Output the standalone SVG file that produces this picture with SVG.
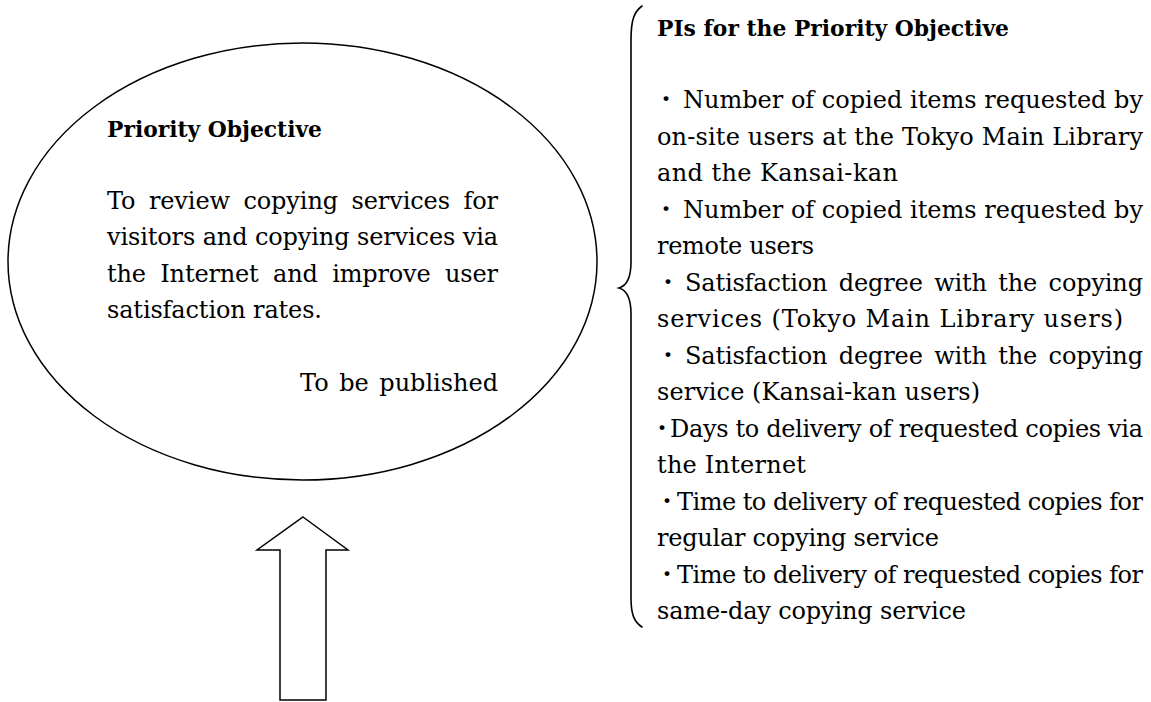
<svg xmlns="http://www.w3.org/2000/svg" width="1151" height="702" viewBox="0 0 1151 702">
  <style>
    .bg { fill: #ffffff; }
    .shape { fill: #ffffff; stroke: #000000; stroke-width: 1.5; stroke-linejoin: miter; }
    .brace { fill: none; stroke: #000000; stroke-width: 1.6; stroke-linecap: round; }
    .txt { font-family: "DejaVu Serif", serif; font-size: 24px; fill: #000000; }
    .head { font-family: "DejaVu Serif", serif; font-size: 21.5px; font-weight: bold; fill: #000000; }
    .dot { font-family: "DejaVu Serif", serif; font-size: 26px; font-weight: bold; fill: #000000; text-anchor: middle; }
  </style>

  <rect class="bg" x="0" y="0" width="1151" height="702"/>

  <!-- Objective bubble -->
  <g id="objective">
    <ellipse class="shape" cx="302.5" cy="261.5" rx="294.5" ry="218.5"/>
    <text class="head" x="107" y="137" textLength="215" lengthAdjust="spacingAndGlyphs">Priority Objective</text>
    <text class="txt" x="107" y="209" textLength="391" lengthAdjust="spacing" word-spacing="6">To review copying services for</text>
    <text class="txt" x="107" y="245" textLength="391" lengthAdjust="spacing">visitors and copying services via</text>
    <text class="txt" x="107" y="282" textLength="391" lengthAdjust="spacing" word-spacing="7">the Internet and improve user</text>
    <text class="txt" x="107" y="318" textLength="215" lengthAdjust="spacing">satisfaction rates.</text>
    <text class="txt" x="300" y="391" textLength="198" lengthAdjust="spacing" word-spacing="3">To be published</text>
  </g>

  <!-- Performance indicator list -->
  <g id="indicators">
    <text class="head" x="657" y="36" textLength="352" lengthAdjust="spacingAndGlyphs">PIs for the Priority Objective</text>

    <text class="dot" x="666" y="108">·</text>
    <text class="txt" x="683" y="108" textLength="460" lengthAdjust="spacing">Number of copied items requested by</text>
    <text class="txt" x="657" y="144.5" textLength="486" lengthAdjust="spacing">on-site users at the Tokyo Main Library</text>
    <text class="txt" x="657" y="181" textLength="241" lengthAdjust="spacing">and the Kansai-kan</text>

    <text class="dot" x="666" y="217.5">·</text>
    <text class="txt" x="683" y="217.5" textLength="460" lengthAdjust="spacing">Number of copied items requested by</text>
    <text class="txt" x="657" y="254" textLength="157" lengthAdjust="spacing">remote users</text>

    <text class="dot" x="668" y="290.5">·</text>
    <text class="txt" x="685" y="290.5" textLength="458" lengthAdjust="spacing" word-spacing="4">Satisfaction degree with the copying</text>
    <text class="txt" x="657" y="327" textLength="466" lengthAdjust="spacing">services (Tokyo Main Library users)</text>

    <text class="dot" x="668" y="363.5">·</text>
    <text class="txt" x="685" y="363.5" textLength="458" lengthAdjust="spacing" word-spacing="4">Satisfaction degree with the copying</text>
    <text class="txt" x="657" y="400" textLength="323" lengthAdjust="spacing">service (Kansai-kan users)</text>

    <text class="dot" x="662" y="436.5">·</text>
    <text class="txt" x="670" y="436.5" textLength="473" lengthAdjust="spacing">Days to delivery of requested copies via</text>
    <text class="txt" x="657" y="473" textLength="149" lengthAdjust="spacing">the Internet</text>

    <text class="dot" x="667" y="509.5">·</text>
    <text class="txt" x="677" y="509.5" textLength="466" lengthAdjust="spacing">Time to delivery of requested copies for</text>
    <text class="txt" x="657" y="546" textLength="282" lengthAdjust="spacing">regular copying service</text>

    <text class="dot" x="667" y="582.5">·</text>
    <text class="txt" x="677" y="582.5" textLength="466" lengthAdjust="spacing">Time to delivery of requested copies for</text>
    <text class="txt" x="657" y="619" textLength="309" lengthAdjust="spacing">same-day copying service</text>
  </g>

  <!-- Brace and upward arrow -->
  <g id="connectors">
    <path class="brace" d="M642,6 C634,12 631,20 631,40 L631,262 C631,280 626,286 619,288 C626,290 631,296 631,314 L631,598 C631,614 634,622 642,627"/>
    <polygon class="shape" points="303,517 348,550 326,550 326,700 280,700 280,550 257,550"/>
  </g>
</svg>
